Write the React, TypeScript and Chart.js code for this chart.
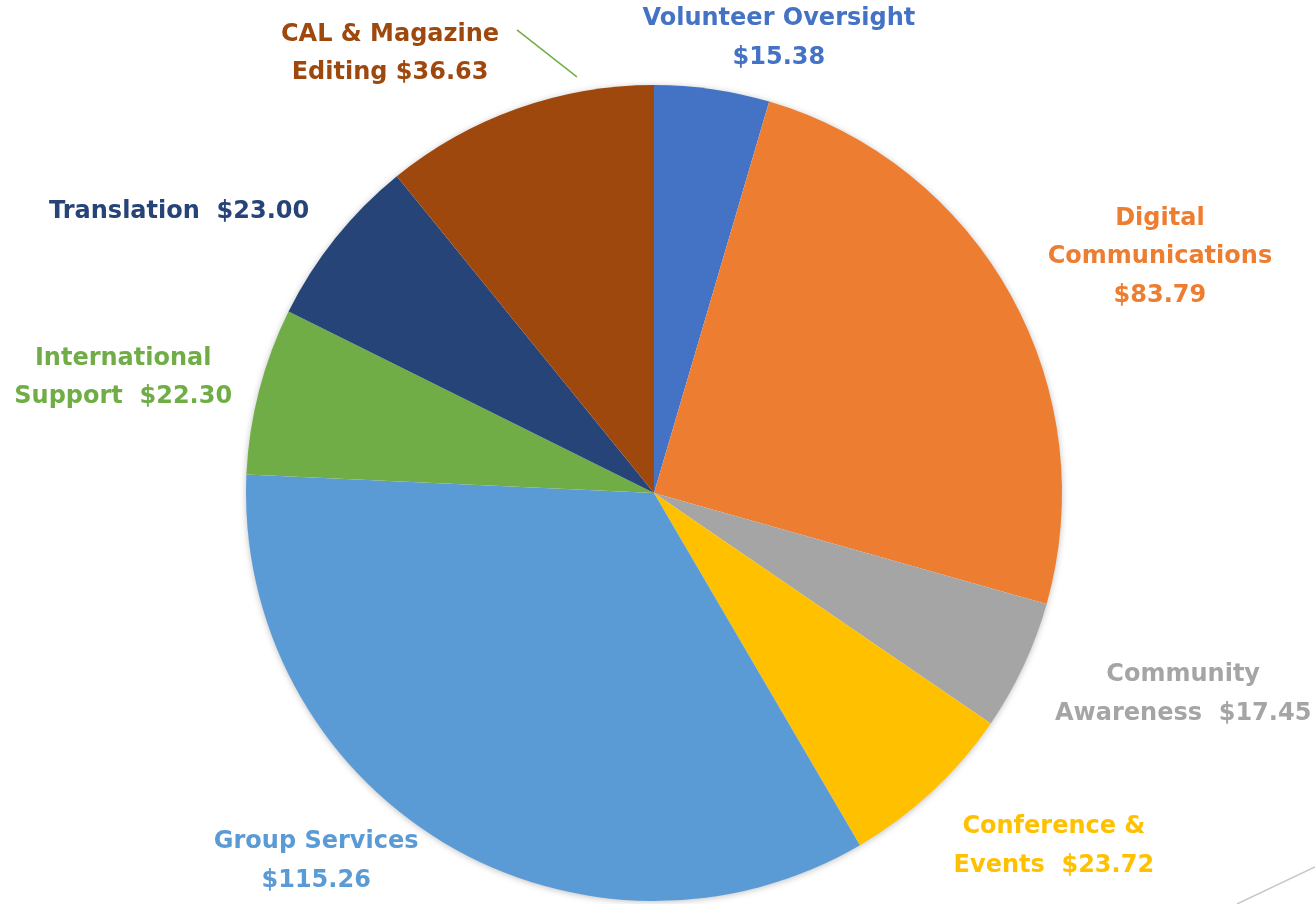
import React, { useEffect, useRef } from "react";
import { Chart, registerables } from "chart.js";

Chart.register(...registerables);

const categories = [
  "Volunteer Oversight",
  "Digital Communications",
  "Community Awareness",
  "Conference & Events",
  "Group Services",
  "International Support",
  "Translation",
  "CAL & Magazine Editing",
];

const values = [15.38, 83.79, 17.45, 23.72, 115.26, 22.3, 23.0, 36.63];

const colors = [
  "#4472C4",
  "#ED7D31",
  "#A5A5A5",
  "#FFC000",
  "#5B9BD5",
  "#70AD47",
  "#264478",
  "#9E480E",
];

// how each label wraps; value appended to last line or on its own line
const nameLines = [
  ["Volunteer Oversight"],
  ["Digital", "Communications"],
  ["Community", "Awareness"],
  ["Conference &", "Events"],
  ["Group Services"],
  ["International", "Support"],
  ["Translation"],
  ["CAL & Magazine", "Editing"],
];
const valueOwnLine = [true, true, false, false, true, false, false, false];
const valueGap = ["", "", "  ", "  ", "", "  ", "  ", " "];

// label block centres, in units of pie radius from pie centre
const labelPos = [
  [0.306, -1.114],
  [1.24, -0.578],
  [1.297, 0.493],
  [0.98, 0.866],
  [-0.828, 0.903],
  [-1.301, -0.283],
  [-1.164, -0.689],
  [-0.647, -1.077],
];

const fmt = (v: number) => "$" + v.toFixed(2);

const labelPlugin = {
  id: "outsideLabels",
  beforeDatasetsDraw(chart: any) {
    const meta = chart.getDatasetMeta(0);
    const arc = meta.data[0];
    if (!arc) return;
    const ctx = chart.ctx;
    ctx.save();
    ctx.shadowColor = "rgba(0,0,0,0.28)";
    ctx.shadowBlur = 7;
    ctx.shadowOffsetX = 0;
    ctx.shadowOffsetY = 1;
    ctx.beginPath();
    ctx.arc(arc.x, arc.y, arc.outerRadius - 0.5, 0, Math.PI * 2);
    ctx.fillStyle = "#ffffff";
    ctx.fill();
    ctx.restore();
  },
  afterDatasetsDraw(chart: any) {
    const meta = chart.getDatasetMeta(0);
    const arc = meta.data[0];
    if (!arc) return;
    const cx = arc.x;
    const cy = arc.y;
    const r = arc.outerRadius;
    const ctx = chart.ctx;
    ctx.save();
    ctx.font = 'bold 24px "DejaVu Sans"';
    ctx.textAlign = "center";
    ctx.textBaseline = "middle";
    const lh = 38.5;
    values.forEach((v, i) => {
      const lines = nameLines[i].slice();
      if (valueOwnLine[i]) lines.push(fmt(v));
      else lines[lines.length - 1] = lines[lines.length - 1] + valueGap[i] + fmt(v);
      const x = cx + labelPos[i][0] * r;
      const y = cy + labelPos[i][1] * r;
      const top = y - ((lines.length - 1) * lh) / 2;
      ctx.fillStyle = colors[i];
      lines.forEach((t, j) => ctx.fillText(t, x, top + j * lh));
    });
    // leader line for CAL & Magazine Editing
    ctx.strokeStyle = "#70AD47";
    ctx.lineWidth = 1.5;
    ctx.beginPath();
    ctx.moveTo(cx - 0.336 * r, cy - 1.135 * r);
    ctx.lineTo(cx - 0.189 * r, cy - 1.02 * r);
    ctx.stroke();
    // faint decorative stroke at bottom-right
    ctx.strokeStyle = "#C8C8C8";
    ctx.lineWidth = 1.5;
    ctx.beginPath();
    ctx.moveTo(chart.width - 78, chart.height);
    ctx.lineTo(chart.width, chart.height - 37);
    ctx.stroke();
    ctx.restore();
  },
};

export default function App() {
  const ref = useRef<HTMLCanvasElement | null>(null);
  useEffect(() => {
    if (!ref.current) return;
    const chart = new Chart(ref.current, {
      type: "pie",
      data: {
        labels: categories,
        datasets: [
          {
            data: values,
            backgroundColor: colors,
            borderWidth: 0,
          },
        ],
      },
      options: {
        responsive: false,
        animation: false,
        layout: { padding: { left: 246, right: 253, top: 85, bottom: 3 } },
        plugins: {
          legend: { display: false },
          tooltip: { enabled: false },
        },
      },
      plugins: [labelPlugin],
    });
    return () => chart.destroy();
  }, []);
  return (
    <canvas
      ref={ref}
      width={1315}
      height={904}
      style={{ position: "fixed", left: 0, top: 0, width: 1315, height: 904, background: "#fff" }}
    />
  );
}
